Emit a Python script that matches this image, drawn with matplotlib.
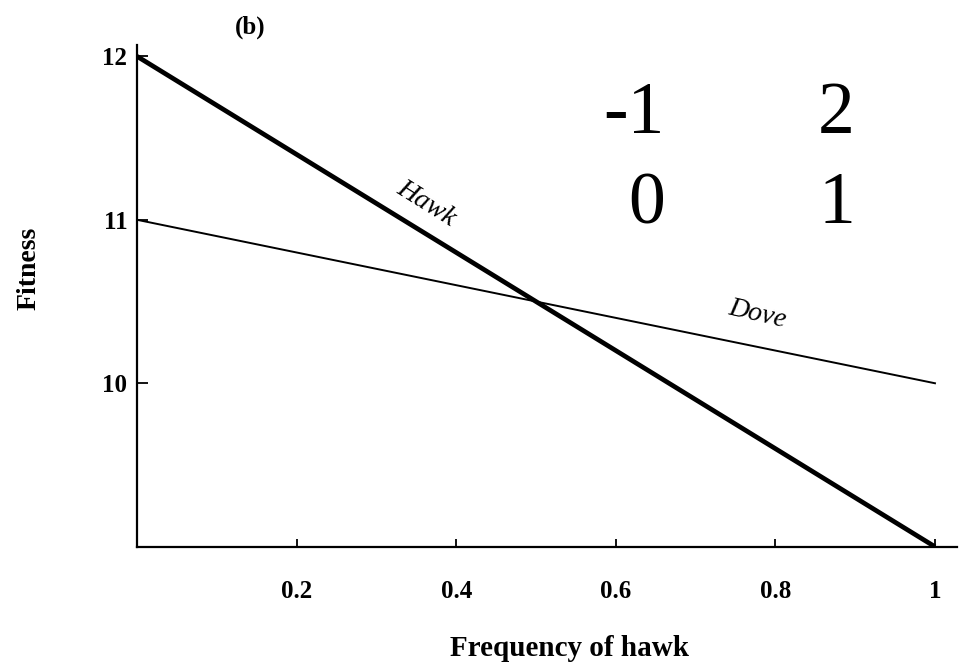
import numpy as np
import matplotlib.pyplot as plt

# frequency of hawk and fitness values
freq = [0.0, 1.0]
hawk = [12.0, 9.0]
dove = [11.0, 10.0]

xticks = [0.2, 0.4, 0.6, 0.8, 1.0]
xticklabels = ['0.2', '0.4', '0.6', '0.8', '1']
yticks = [10, 11, 12]

# payoff matrix shown top right
payoff = [['-1', '2'], ['0', '1']]

plt.rcParams['font.family'] = ['Liberation Serif', 'DejaVu Serif']

fig = plt.figure(figsize=(9.65, 6.7), dpi=100)
ax = fig.add_axes([0.142, 0.184, 0.8497, 0.749])

ax.plot(freq, hawk, color='black', lw=3.4, solid_capstyle='butt')
ax.plot(freq, dove, color='black', lw=1.4)

ax.set_xlim(0, 1.0276)
ax.set_ylim(9, 12.07)
for s in ['top', 'right']:
    ax.spines[s].set_visible(False)
for s in ['left', 'bottom']:
    ax.spines[s].set_linewidth(1.6)

ax.set_xticks(xticks)
ax.set_xticklabels(xticklabels, fontweight='bold', fontsize=18)
ax.set_yticks(yticks)
ax.set_yticklabels([str(t) for t in yticks], fontweight='bold', fontsize=18)
ax.tick_params(axis='x', direction='in', length=6, width=1.3, pad=24)
ax.tick_params(axis='y', direction='in', length=8, width=1.3, pad=7)

ax.set_xlabel('Frequency of hawk', fontsize=21, fontweight='bold')
ax.xaxis.set_label_coords(0.528, -0.175)
ax.set_ylabel('Fitness', fontsize=20, fontweight='bold')
ax.yaxis.set_label_coords(-0.116, 0.554)

ax.text(0.363, 11.10, 'Hawk', rotation=-32, fontsize=20, style='italic',
        ha='center', va='center')
ax.text(0.778, 10.42, 'Dove', rotation=-13, fontsize=20, style='italic',
        ha='center', va='center')

fig.text(0.259, 0.96, '(b)', fontsize=18, fontweight='bold', ha='center', va='center')

colx = [0.689, 0.886]
rowy = [0.8015, 0.667]
for i, row in enumerate(payoff):
    for j, v in enumerate(row):
        fig.text(colx[j], rowy[i], v, fontsize=53, ha='right', va='baseline',
                 family='Liberation Serif')

fig.savefig('out.png', dpi=100)
